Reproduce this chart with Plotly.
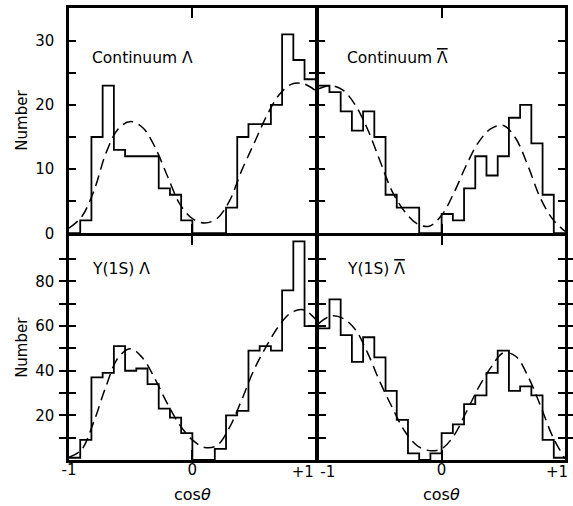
import numpy as np
import plotly.graph_objects as go

# ---------------- data ----------------
n_bins = 22
bin_edges = np.linspace(-1.0, 1.0, n_bins + 1)

cont_lambda = [0, 2, 15, 23, 13, 12, 12, 12, 7, 6, 2, 0, 0, 0, 4, 15, 17, 17, 20, 31, 27, 24]
cont_lambdabar = [23, 22, 19, 16, 19, 15, 6, 4, 4, 0, 0, 3, 2, 7, 12, 9, 12, 18, 20, 14, 6, 0]
ups_lambda = [1, 9, 37, 39, 51, 40, 41, 34, 23, 19, 12, 0, 0, 5, 20, 22, 49, 51, 49, 76, 98, 60]
ups_lambdabar = [59, 72, 56, 44, 55, 46, 31, 18, 3, 0, 3, 12, 16, 25, 29, 39, 49, 31, 33, 29, 9, 1]

fit_x = [-1.0, -0.9, -0.8, -0.7, -0.6, -0.5, -0.4, -0.3, -0.2, -0.1, 0.0,
         0.1, 0.2, 0.3, 0.4, 0.5, 0.6, 0.7, 0.8, 0.9, 1.0]
fit_cont_lambda = [0.8, 2.5, 6.5, 12.5, 16.3, 17.4, 16.4, 13.3, 8.8, 4.5, 2.3,
                   1.6, 2.3, 5.0, 9.8, 14.0, 18.2, 21.5, 23.2, 23.3, 22.2]
fit_cont_lambdabar = [22.5, 23.0, 22.3, 20.0, 16.2, 11.3, 6.5, 3.4, 1.5, 1.1, 2.8,
                      6.3, 10.6, 14.2, 16.3, 16.8, 14.8, 10.5, 5.5, 2.2, 0.3]
fit_ups_lambda = [1.2, 4.5, 17.0, 33.0, 46.0, 49.8, 45.5, 36.0, 25.0, 15.5, 9.0,
                  5.6, 6.5, 14.5, 27.0, 40.5, 51.0, 60.0, 66.0, 67.3, 63.0]
fit_ups_lambdabar = [61.0, 64.5, 63.5, 58.5, 48.0, 35.0, 23.5, 13.0, 6.5, 4.2, 5.0,
                     11.0, 21.5, 32.5, 41.5, 48.0, 46.5, 37.5, 24.5, 10.5, 0.5]

top_ticks = [0, 5, 10, 15, 20, 25, 30]
top_ticktext = ["0", "", "10", "", "20", "", "30"]
bot_ticks = [10, 20, 30, 40, 50, 60, 70, 80, 90]
bot_ticktext = ["", "20", "", "40", "", "60", "", "80", ""]

BAR = '<span style="text-decoration:overline">Λ</span>'
panel_labels = ["Continuum Λ", "Continuum " + BAR, "Υ(1S) Λ", "Υ(1S) " + BAR]

# ---------------- figure ----------------
FONT = "DejaVu Sans"
fig = go.Figure()

panels = [
    ("x", "y", cont_lambda, fit_cont_lambda),
    ("x2", "y2", cont_lambdabar, fit_cont_lambdabar),
    ("x3", "y3", ups_lambda, fit_ups_lambda),
    ("x4", "y4", ups_lambdabar, fit_ups_lambdabar),
]
for xa, ya, counts, fit in panels:
    fig.add_trace(go.Scatter(
        x=list(bin_edges), y=list(counts) + [counts[-1]],
        mode="lines", line=dict(color="black", width=1.8, shape="hv"),
        xaxis=xa, yaxis=ya, showlegend=False, hoverinfo="skip"))
    fig.add_trace(go.Scatter(
        x=fit_x, y=fit, mode="lines",
        line=dict(color="black", width=1.5, dash="11px,6px", shape="spline", smoothing=1.0),
        xaxis=xa, yaxis=ya, showlegend=False, hoverinfo="skip"))

# empty traces so the overlaying label axes get drawn
for xa, ya in [("x5", "y3"), ("x6", "y4"), ("x7", "y4")]:
    fig.add_trace(go.Scatter(x=[0], y=[-50], mode="markers", marker=dict(opacity=0),
                             xaxis=xa, yaxis=ya, showlegend=False, hoverinfo="skip"))

LW = 2.5
PLOT_W = 573 - 69 - 5
PLOT_H = 506 - 5 - 46
dx = (LW / 2) / PLOT_W
dy = (LW / 2) / PLOT_H
XM = 0.5
YM = 0.4989

xbase = dict(range=[-1, 1], showgrid=False, zeroline=False, showline=True,
             linecolor="black", linewidth=LW, mirror="allticks",
             ticks="inside", ticklen=10, tickwidth=1.5, tickcolor="black",
             tickvals=[-1, 0, 1], fixedrange=True, ticklabelstandoff=-6,
             tickfont=dict(family=FONT, size=15, color="black"))
ybase = dict(showgrid=False, zeroline=False, showline=True,
             linecolor="black", linewidth=LW, mirror="allticks",
             ticks="inside", ticklen=7, tickwidth=1.5, tickcolor="black",
             fixedrange=True, ticklabelstandoff=9,
             tickfont=dict(family=FONT, size=15, color="black"))
xover = dict(range=[-1, 1], showgrid=False, zeroline=False, showline=False, ticks="",
             ticklabeloverflow="allow", ticklabelstandoff=1, fixedrange=True,
             tickfont=dict(family=FONT, size=15, color="black"))

fig.update_layout(
    width=573, height=506,
    margin=dict(l=69, r=5, t=5, b=46),
    paper_bgcolor="white", plot_bgcolor="white",
    xaxis=dict(xbase, domain=[0, XM - dx], anchor="y", showticklabels=False),
    xaxis2=dict(xbase, domain=[XM + dx, 1], anchor="y2", showticklabels=False),
    xaxis3=dict(xbase, domain=[0, XM - dx], anchor="y3", tickvals=[-1, 0, 1],
                ticktext=["-1", "0", ""]),
    xaxis4=dict(xbase, domain=[XM + dx, 1], anchor="y4", tickvals=[-1, 0, 1],
                ticktext=["", "0", ""]),
    xaxis5=dict(xover, domain=[0, XM - dx], overlaying="x3", anchor="y3",
                tickvals=[1], ticktext=["+1"], ticklabelposition="outside left",
                ticklabelshift=-2),
    xaxis6=dict(xover, domain=[XM + dx, 1], overlaying="x4", anchor="y4",
                tickvals=[-1], ticktext=["-1"], ticklabelposition="outside right",
                ticklabelshift=2),
    xaxis7=dict(xover, domain=[XM + dx, 1], overlaying="x4", anchor="y4",
                tickvals=[1], ticktext=["+1"], ticklabelposition="outside left",
                ticklabelshift=3),
    yaxis=dict(ybase, domain=[YM + dy, 1], anchor="x", range=[0, 35.1],
               tickvals=top_ticks, ticktext=top_ticktext),
    yaxis2=dict(ybase, domain=[YM + dy, 1], anchor="x2", range=[0, 35.1],
                tickvals=top_ticks, showticklabels=False),
    yaxis3=dict(ybase, domain=[0, YM - dy], anchor="x3", range=[0, 100.5],
                tickvals=bot_ticks, ticktext=bot_ticktext),
    yaxis4=dict(ybase, domain=[0, YM - dy], anchor="x4", range=[0, 100.5],
                tickvals=bot_ticks, showticklabels=False),
)

ann_font = dict(family=FONT, size=15.5, color="black")
label_pos = [("x domain", "y domain", 0.085, 0.78),
             ("x2 domain", "y2 domain", 0.11, 0.78),
             ("x3 domain", "y3 domain", 0.085, 0.85),
             ("x4 domain", "y4 domain", 0.11, 0.85)]
for text, (xr, yr, xp, yp) in zip(panel_labels, label_pos):
    fig.add_annotation(text=text, xref=xr, yref=yr, x=xp, y=yp,
                       xanchor="left", yanchor="middle", showarrow=False, font=ann_font)

for xr in ["x3", "x4"]:
    fig.add_annotation(text="cos<i>θ</i>", xref=xr, yref="paper", x=0, y=0,
                       yshift=-34, xanchor="center", yanchor="middle",
                       showarrow=False, font=dict(family=FONT, size=16, color="black"))
for yr in ["y", "y3"]:
    fig.add_annotation(text="Number", xref="paper", yref=yr + " domain", x=0, y=0.5,
                       xshift=-47, xanchor="center", yanchor="middle", textangle=-90,
                       showarrow=False, font=dict(family=FONT, size=15, color="black"))

fig.write_html("out.html")
